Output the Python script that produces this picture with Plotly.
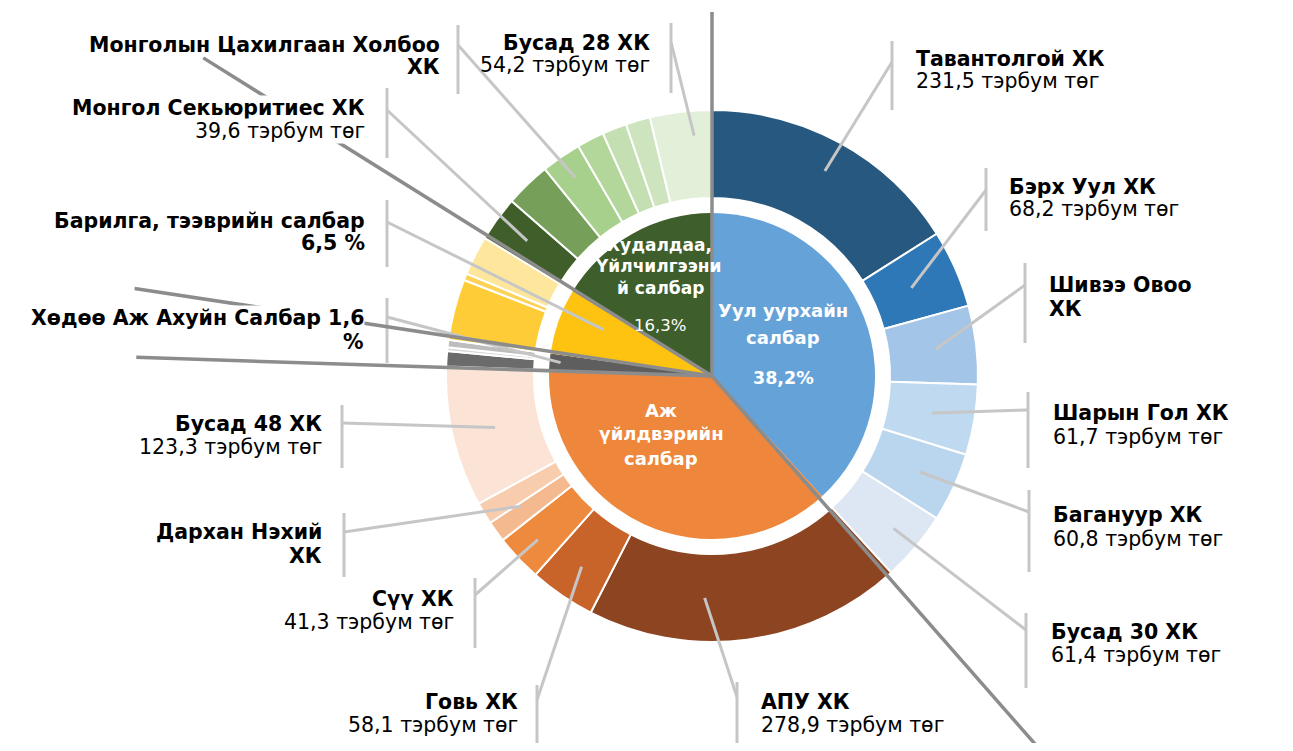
import math
import plotly.graph_objects as go

# ---------------- data ----------------
sector_labels = ["Уул уурхайн салбар", "Аж үйлдвэрийн салбар", "Хөдөө Аж Ахуйн Салбар",
                 "Барилга, тээврийн салбар", "Худалдаа, Үйлчилгээний салбар"]
sector_share = [38.2, 37.4, 1.6, 6.5, 16.3]

mining_companies = ["Тавантолгой ХК", "Бэрх Уул ХК", "Шивээ Овоо ХК", "Шарын Гол ХК",
                    "Багануур ХК", "Бусад 30 ХК"]
mining_values = [231.5, 68.2, 69.0, 61.7, 60.8, 61.4]

industry_companies = ["АПУ ХК", "Говь ХК", "Сүү ХК", "Дархан Нэхий ХК",
                      "Аж үйлдвэр - бусад ХК", "Бусад 48 ХК"]
industry_values = [278.9, 58.1, 41.3, 18.5, 19.3, 123.3]

agri_companies = ["ХАА - ХК 1", "ХАА - ХК 2", "ХАА - ХК 3"]
agri_values = [13.5, 3.3, 6.4]

construction_companies = ["Барилга - ХК 1", "Барилга - ХК 2", "Барилга - ХК 3"]
construction_values = [53.5, 6.0, 34.6]

trade_companies = ["Монгол Секьюритиес ХК", "Худалдаа - ХК 2", "Монголын Цахилгаан Холбоо ХК",
                   "Худалдаа - ХК 4", "Худалдаа - ХК 5", "Худалдаа - ХК 6", "Бусад 28 ХК"]
trade_values = [39.6, 40.0, 35.0, 24.0, 21.5, 21.5, 54.2]

# ---------------- styles ----------------
sector_colors = ["#65A2D8", "#EE873B", "#5E5E5E", "#FDC310", "#3E5E2B"]
mining_colors = ["#27587F", "#2F78B7", "#A3C5E7", "#BFD9F0", "#BAD5EE", "#DDE6F3"]
industry_colors = ["#8C4520", "#C8632A", "#EE8A3E", "#F4B98F", "#F7CDAE", "#FBE4D5"]
agri_colors = ["#6B6B6B", "#D9D9D9", "#BDBDBD"]
construction_colors = ["#FDCC36", "#FDD256", "#FEE79D"]
trade_colors = ["#3F5E2A", "#76A05A", "#A8D08D", "#B3D69B", "#C4DFB2", "#CDE4BE", "#E2EFD9"]

OFF = 8                      # page body margin
W, H = 1293 - 2 * OFF, 751 - 2 * OFF
CX, CY = 712, 376            # screen pixel coords
R_OUT, R_HOLE, R_IN = 266, 178, 163
FONT = "DejaVu Sans"
DARK = "#8C8C8C"
LIGHT = "#C6C6C6"
LSIZE = 20.5


def px(x):
    return (x - OFF) / W


def py(y):
    return 1 - (y - OFF) / H


def polar(theta, r):
    t = math.radians(theta)
    return CX + r * math.sin(t), CY - r * math.cos(t)


def fmt(v):
    return f"{v:.1f}".replace(".", ",")


outer_names = mining_companies + industry_companies + agri_companies + construction_companies + trade_companies
outer_values = mining_values + industry_values + agri_values + construction_values + trade_values
outer_colors = mining_colors + industry_colors + agri_colors + construction_colors + trade_colors
outer_val = dict(zip(outer_names, outer_values))

tot = sum(outer_values)
outer_mid = {}
c = 0.0
for n, v in zip(outer_names, outer_values):
    outer_mid[n] = 360.0 * (c + v / 2) / tot
    c += v

itot = sum(sector_share)
inner_mid, inner_bounds = [], [0.0]
c = 0.0
for v in sector_share:
    inner_mid.append(360.0 * (c + v / 2) / itot)
    c += v
    inner_bounds.append(360.0 * c / itot)

fig = go.Figure()
fig.add_trace(go.Pie(
    values=outer_values, labels=outer_names, sort=False, direction="clockwise", rotation=0,
    hole=R_HOLE / R_OUT,
    marker=dict(colors=outer_colors, line=dict(color="white", width=2)),
    textinfo="none", hoverinfo="label+value", showlegend=False,
    domain=dict(x=[px(CX - R_OUT), px(CX + R_OUT)], y=[py(CY + R_OUT), py(CY - R_OUT)]),
))
fig.add_trace(go.Pie(
    values=sector_share, labels=sector_labels, sort=False, direction="clockwise", rotation=0,
    marker=dict(colors=sector_colors, line=dict(color="white", width=0)),
    textinfo="none", hoverinfo="label+value", showlegend=False,
    domain=dict(x=[px(CX - R_IN), px(CX + R_IN)], y=[py(CY + R_IN), py(CY - R_IN)]),
))

shapes = []
annotations = []


def seg(x0, y0, x1, y1, color, width):
    shapes.append(dict(type="line", xref="paper", yref="paper",
                       x0=px(x0), y0=py(y0), x1=px(x1), y1=py(y1),
                       line=dict(color=color, width=width), layer="above"))


def text(x, y, s, anchor, size, bold, color="black", bg=None):
    annotations.append(dict(
        xref="paper", yref="paper", x=px(x), y=py(y), xanchor=anchor, yanchor="middle",
        text=f"<b>{s}</b>" if bold else s, showarrow=False, align=anchor if anchor != "center" else "center",
        font=dict(family=FONT, size=size, color=color),
        bgcolor=bg if bg else "rgba(0,0,0,0)", borderpad=0))


VAL = "VAL"
# leader / label layout: target, bar (x, y0, y1), attach y, end radius, angle offset,
# text x, anchor, line y's, lines (text, bold), white background
leaders = [
    dict(t=("o", "Тавантолгой ХК"), bar=(892, 41, 110), ay=62, r=234, dth=0, tx=915, an="left",
         ys=(59, 81), lines=[("Тавантолгой ХК", True), (VAL, False)]),
    dict(t=("o", "Бэрх Уул ХК"), bar=(986, 168, 231), ay=190, r=218, dth=0, tx=1008, an="left",
         ys=(187, 209), lines=[("Бэрх Уул ХК", True), (VAL, False)]),
    dict(t=("o", "Шивээ Овоо ХК"), bar=(1025, 263, 343), ay=285, r=225, dth=0, tx=1048, an="left",
         ys=(285, 309), lines=[("Шивээ Овоо", True), ("ХК", True)]),
    dict(t=("o", "Шарын Гол ХК"), bar=(1028, 392, 468), ay=410, r=223, dth=0, tx=1052, an="left",
         ys=(413, 437), lines=[("Шарын Гол ХК", True), (VAL, False)]),
    dict(t=("o", "Багануур ХК"), bar=(1029, 490, 572), ay=512, r=229, dth=0, tx=1052, an="left",
         ys=(515, 539), lines=[("Багануур ХК", True), (VAL, False)]),
    dict(t=("o", "Бусад 30 ХК"), bar=(1026, 613, 688), ay=630, r=237, dth=0, tx=1050, an="left",
         ys=(632, 655), lines=[("Бусад 30 ХК", True), (VAL, False)]),
    dict(t=("o", "АПУ ХК"), bar=(737, 682, 751), ay=697, r=222, dth=9.5, tx=760, an="left",
         ys=(702, 725), lines=[("АПУ ХК", True), (VAL, False)]),
    dict(t=("o", "Говь ХК"), bar=(537, 685, 751), ay=700, r=231, dth=0, tx=519, an="right",
         ys=(702, 725), lines=[("Говь ХК", True), (VAL, False)]),
    dict(t=("o", "Сүү ХК"), bar=(475, 578, 648), ay=595, r=239, dth=0, tx=455, an="right",
         ys=(599, 622), lines=[("Сүү ХК", True), (VAL, False)]),
    dict(t=("o", "Дархан Нэхий ХК"), bar=(344, 513, 577), ay=532, r=231, dth=1.5, tx=323, an="right",
         ys=(532, 556), lines=[("Дархан Нэхий", True), ("ХК", True)]),
    dict(t=("o", "Бусад 48 ХК"), bar=(342, 405, 468), ay=423, r=223, dth=0, tx=323, an="right",
         ys=(424, 447), lines=[("Бусад 48 ХК", True), (VAL, False)]),
    dict(t=("i", 2), bar=(387, 298, 363), ay=317, r=152, dth=0, tx=365, an="right",
         ys=(318, 342), lines=[(f"Хөдөө Аж Ахуйн Салбар {fmt(sector_share[2])}", True), ("%", True)], bg=True),
    dict(t=("i", 3), bar=(387, 200, 267), ay=222, r=118, dth=3.5, tx=366, an="right",
         ys=(221, 243), lines=[("Барилга, тээврийн салбар", True), (f"{fmt(sector_share[3])} %", True)]),
    dict(t=("o", "Монгол Секьюритиес ХК"), bar=(387, 88, 158), ay=110, r=229, dth=0, tx=366, an="right",
         ys=(108, 131), lines=[("Монгол Секьюритиес ХК", True), (VAL, False)], bg=True),
    dict(t=("o", "Монголын Цахилгаан Холбоо ХК"), bar=(458, 25, 94), ay=45, r=241, dth=0, tx=441, an="right",
         ys=(45, 67), lines=[("Монголын Цахилгаан Холбоо", True), ("ХК", True)]),
    dict(t=("o", "Бусад 28 ХК"), bar=(671, 23, 93), ay=42, r=241, dth=2.5, tx=651, an="right",
         ys=(43, 65), lines=[("Бусад 28 ХК", True), (VAL, False)]),
]

for L in leaders:
    kind, key = L["t"]
    if kind == "o":
        theta = outer_mid[key] + L["dth"]
        val = outer_val[key]
    else:
        theta = inner_mid[key] + L["dth"]
        val = sector_share[key]
    ex, ey = polar(theta, L["r"])
    bx, by0, by1 = L["bar"]
    seg(bx, by0, bx, by1, LIGHT, 3)
    seg(bx, L["ay"], ex, ey, LIGHT, 3)
    for (s, b), yy in zip(L["lines"], L["ys"]):
        s = f"{fmt(val)} тэрбум төг" if s == VAL else s
        text(L["tx"], yy, s, L["an"], LSIZE, b, bg="white" if L.get("bg") else None)

# sector boundary rays (drawn on top of the pie)
ray_lengths = [364, 498, 576, 584, 600]
ray_offsets = [0.0, 1.2, -0.3, 0.7, 0.7]
for ang, ln, d in zip(inner_bounds[:-1], ray_lengths, ray_offsets):
    x1, y1 = polar(ang + d, ln)
    seg(CX, CY, x1, y1, DARK, 3.5)

# inner pie texts
text(783, 310, "Уул уурхайн", "center", 18, True, "white")
text(783, 337, "салбар", "center", 18, True, "white")
text(783, 378, f"{fmt(sector_share[0])}%", "center", 17.5, True, "white")
text(661, 410, "Аж", "center", 18, True, "white")
text(661, 434, "үйлдвэрийн", "center", 18, True, "white")
text(661, 458, "салбар", "center", 18, True, "white")
text(659, 245, "Худалдаа,", "center", 17, True, "white")
text(658, 266, "Үйлчилгээни", "center", 17, True, "white")
text(660, 288, "й салбар", "center", 17, True, "white")
text(660, 325, f"{fmt(sector_share[4])}%", "center", 16.5, False, "white")

fig.update_layout(
    width=W, height=H, margin=dict(l=0, r=0, t=0, b=0),
    paper_bgcolor="white", plot_bgcolor="white",
    shapes=shapes, annotations=annotations, showlegend=False,
)
fig.write_html("out.html")
